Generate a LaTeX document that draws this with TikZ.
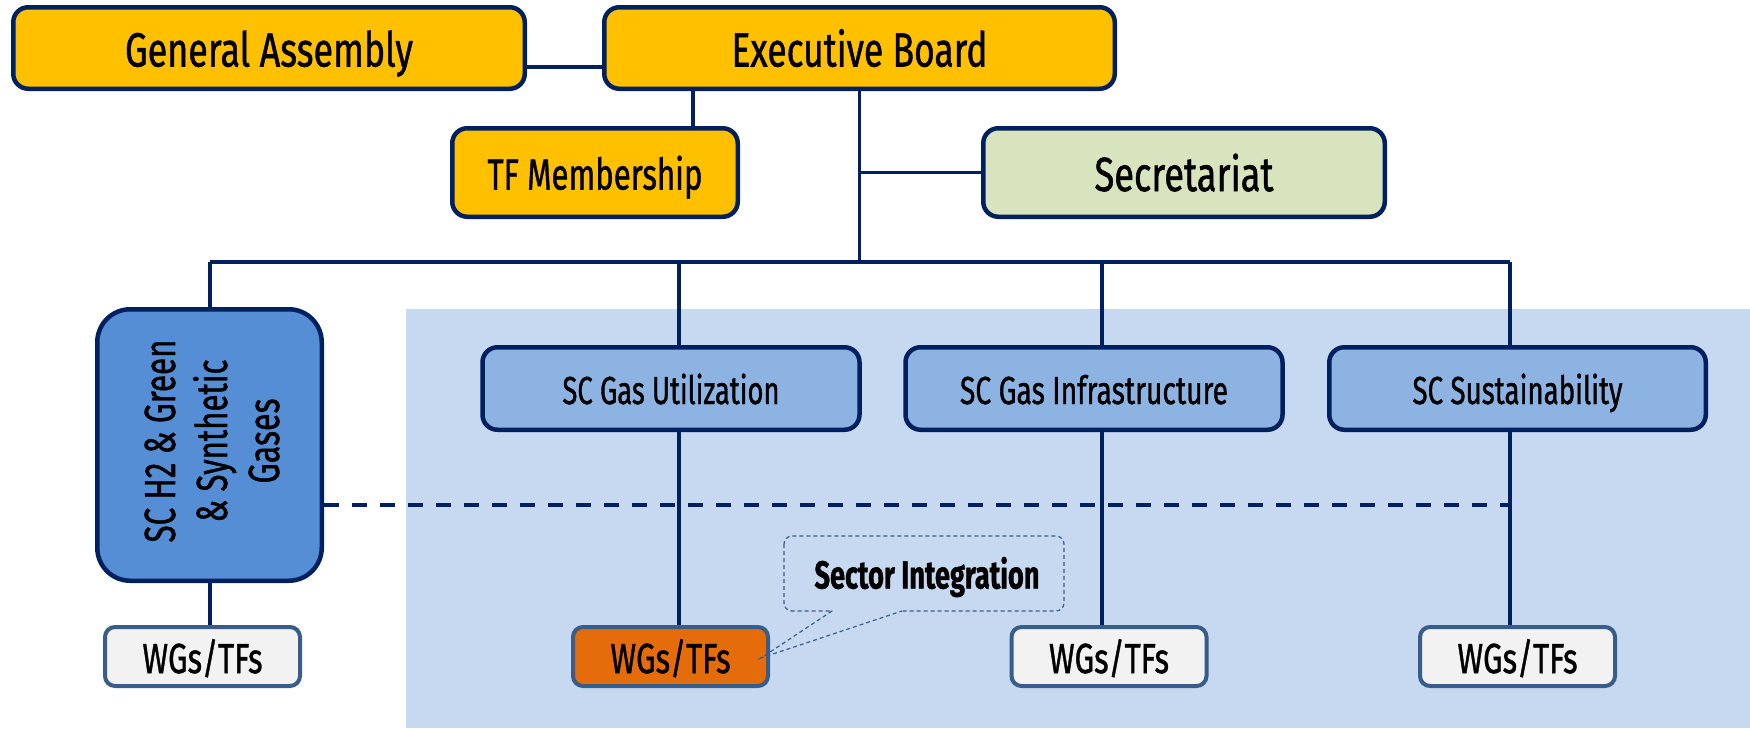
\documentclass[tikz,border=0pt]{standalone}
\usepackage{fontspec}
\setmainfont{Fira Sans}[FakeBold=1.2]
\usepackage{graphicx}
\definecolor{navy}{HTML}{002060}
\definecolor{gold}{HTML}{FFC000}
\definecolor{secgreen}{HTML}{D7E4BD}
\definecolor{hblue}{HTML}{558ED5}
\definecolor{scblue}{HTML}{8DB3E2}
\definecolor{bgblue}{HTML}{C6D9F1}
\definecolor{wgline}{HTML}{385D8A}
\definecolor{wgfill}{HTML}{F2F2F2}
\definecolor{orng}{HTML}{E46C0A}
\newcommand\fw[3]{\resizebox{#2pt}{\height}{\fontsize{#1}{#1}\selectfont #3}}
\begin{document}
\begin{tikzpicture}[x=1pt,y=-1pt,
  conn/.style={draw=navy, line width=3.5pt},
  dashconn/.style={draw=navy, line width=3.5pt, dash pattern=on 15pt off 13pt},
  box/.style={draw=navy, line width=4.5pt, inner sep=0pt, rounded corners=15pt, text depth=0pt},
  ybox/.style={box, fill=gold},
  scbox/.style={box, fill=scblue, minimum width=377pt, minimum height=82.5pt, text height=31pt},
  wgbox/.style={draw=wgline, line width=4pt, inner sep=0pt, rounded corners=10pt, fill=wgfill,
    minimum width=195pt, minimum height=59pt, text depth=0pt, text height=33pt},
  callout/.style={draw=wgline, line width=1.2pt, dash pattern=on 4pt off 3pt}
]
\useasboundingbox (0,0) rectangle (1750,728);
\fill[bgblue] (406,309) rectangle (1750,728);

% coordinates for connector lines
\coordinate (d1) at (210,262);
\coordinate (d2) at (679,262);
\coordinate (d3) at (1102,262);
\coordinate (d4) at (1510,262);
\coordinate (gy) at (0,67);
\coordinate (tfx) at (693,0);
\coordinate (dy) at (0,505);

% nodes
\node[ybox, minimum width=511.5pt, minimum height=81.5pt, text height=37pt] (ga) at (269,48) {\fw{48}{288}{General Assembly}};
\node[ybox, minimum width=510.5pt, minimum height=81.5pt, text height=37pt] (eb) at (859.5,48) {\fw{48}{256}{Executive Board}};
\node[ybox, minimum width=285.5pt, minimum height=88.5pt, text height=34pt] (tf) at (595,172.5) {\fw{43.5}{215}{TF Membership}};
\node[box, fill=secgreen, minimum width=401.5pt, minimum height=88.5pt, text height=37pt] (sec) at (1184,172.5) {\fw{48}{179}{Secretariat}};
\node[box, fill=hblue, rounded corners=33pt, minimum width=224.5pt, minimum height=271.5pt] (h2) at (209.5,445) {};
\node[rotate=90, align=center, inner sep=0pt, font=\fontsize{43.5}{52}\selectfont] (h2t) at (212,441)
  {\fw{43.5}{203}{SC H2 \& Green}\\\fw{43.5}{163}{\& Synthetic}\\\fw{43.5}{85}{Gases}};
\node[scbox] (scu) at (671,388.5) {\fw{39}{217}{SC Gas Utilization}};
\node[scbox] (sci) at (1094,388.5) {\fw{39}{268}{SC Gas Infrastructure}};
\node[scbox, minimum width=376.5pt] (scs) at (1517.5,388.5) {\fw{39}{210}{SC Sustainability}};
\node[wgbox] (wg1) at (202.5,656.5) {\fw{42}{120}{WGs/TFs}};
\node[wgbox, fill=orng] (wg2) at (670.5,656.5) {\fw{42}{120}{WGs/TFs}};
\node[wgbox] (wg3) at (1109,656.5) {\fw{42}{120}{WGs/TFs}};
\node[wgbox] (wg4) at (1517.5,656.5) {\fw{42}{120}{WGs/TFs}};

% connectors
\draw[conn] (ga.east |- gy) -- (eb.west |- gy);
\draw[conn] (eb.south -| tfx) -- (tf.north -| tfx);
\draw[conn] (eb.south) -- (eb.south |- d1);
\draw[conn] (sec.west -| eb.south) -- (sec.west);
\draw[conn] (d1) -- (d4);
\draw[conn] (d1) -- (h2.north -| d1);
\draw[conn] (d2) -- (scu.north -| d2);
\draw[conn] (d3) -- (sci.north -| d3);
\draw[conn] (d4) -- (scs.north -| d4);
\draw[dashconn] (h2.east |- dy) -- (d4 |- dy);
\draw[conn] (h2.south -| d1) -- (wg1.north -| d1);
\draw[conn] (scu.south -| d2) -- (wg2.north -| d2);
\draw[conn] (sci.south -| d3) -- (wg3.north -| d3);
\draw[conn] (scs.south -| d4) -- (wg4.north -| d4);

% callout
\node[inner sep=0pt, text height=27pt, text depth=0pt] (si) at (927,575) {\bfseries\fw{39}{225}{Sector Integration}};
\draw[callout, rounded corners=8pt] (784,536) rectangle (1064,611);
\fill[bgblue] (833,608) rectangle (901,614);
\coordinate (tip) at (761,658);
\draw[callout] (832,611) -- (tip) -- (902,611);
\end{tikzpicture}
\end{document}
